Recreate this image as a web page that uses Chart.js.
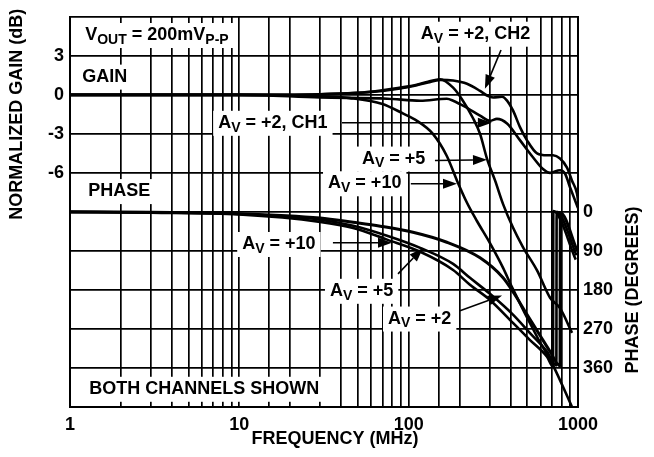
<!DOCTYPE html>
<html>
<head>
<meta charset="utf-8">
<script src="https://cdn.jsdelivr.net/npm/chart.js@4.4.1/dist/chart.umd.min.js"></script>
<style>
  html, body { margin: 0; padding: 0; background: #fff; }
  #wrap { width: 654px; height: 457px; }
</style>
</head>
<body>
<div id="wrap"><canvas id="chart" width="654" height="457"></canvas></div>
<script>
// axis ticks
const freqTickLabels = [1, 10, 100, 1000];
const gainTickLabels = [3, 0, -3, -6];
const phaseTickLabels = [0, 90, 180, 270, 360];

// normalized gain (dB) vs frequency (MHz)
const gainCh2Freq = [1, 10, 30, 50, 70, 100, 130, 153, 183, 221, 264, 290, 315, 356, 381, 413, 455, 500, 573, 656, 712, 783, 861, 922, 987, 1000];
const gainCh2 = [0, 0, 0.05, 0.15, 0.3, 0.6, 0.95, 1.15, 1.1, 0.85, 0.3, -0.05, -0.2, -0.15, -0.45, -1.2, -2.5, -3.5, -4.5, -4.65, -4.65, -4.9, -5.6, -6.6, -7.6, -8.1];

const gainCh1Freq = [1, 10, 30, 75, 117, 168, 183, 221, 264, 302, 332, 381, 455, 542, 621, 684, 783, 838, 897, 960, 1000];
const gainCh1 = [0, 0, -0.2, -0.3, -0.45, -0.3, -0.45, -1.0, -1.6, -2.0, -1.85, -2.2, -3.5, -4.8, -5.7, -6.0, -5.8, -6.05, -7.1, -8.1, -8.7];

const gainAv5Freq = [1, 10, 30, 50, 70, 100, 130, 153, 183, 209, 240, 264, 290, 324, 361, 413, 473, 573, 684, 783, 922];
const gainAv5 = [0, 0, 0.05, 0.15, 0.35, 0.65, 1.0, 1.2, 0.55, -0.45, -1.8, -3.0, -4.9, -6.6, -8.4, -10.2, -11.7, -13.5, -15.6, -16.4, -18.3];

const gainAv10Freq = [1, 10, 30, 45, 70, 93, 112, 139, 168, 193, 221, 253, 302, 361, 408, 573, 712, 922];
const gainAv10 = [0, 0, -0.1, -0.25, -0.7, -1.45, -2.0, -3.0, -4.7, -6.6, -8.3, -9.7, -11.4, -13.3, -14.8, -18.6, -20.8, -24];

// phase (degrees, drawn 0..360 downward, wraps back to 0)
const phaseAv2Freq = [1, 3, 10, 30, 47, 68, 106, 168, 264, 361, 424, 500, 597, 684, 783, 786, 990];
const phaseAv2 = [0, 1, 4, 14, 24, 33, 47, 70, 106, 152, 191, 237, 285, 322, 355, 2, 90];

const phaseAv5Freq = [1, 3, 10, 30, 47, 74.5, 117, 183, 230, 302, 413, 519, 656, 745, 748, 980];
const phaseAv5 = [0, 1, 5, 18, 32, 55, 83, 120, 152, 189, 237, 279, 322, 354, 0, 100];

const phaseAv10Freq = [1, 3, 10, 30, 47, 74.5, 117, 183, 230, 302, 413, 519, 656, 712, 715, 970];
const phaseAv10 = [0, 2, 6, 23, 37, 64, 92, 134, 168, 203, 256, 295, 334, 357, -2, 110];

const FONT = '"Liberation Sans", Arial, Helvetica, sans-serif';
const FS = 18;

function pts(xs, ys) {
  return xs.map((x, i) => ({ x: x, y: ys[i] }));
}

function curve(label, xs, ys, axis, width) {
  return {
    label: label,
    data: pts(xs, ys),
    yAxisID: axis,
    borderColor: '#000',
    borderWidth: width,
    pointRadius: 0,
    fill: false,
    cubicInterpolationMode: 'monotone',
  };
}

// text notes: "_" toggles subscript
const notes = [
  { text: 'V_OUT_ = 200mV_P-P', f: 1.23, v: 4.6, axis: 'yG' },
  { text: 'GAIN', f: 1.18, v: 1.4, axis: 'yG' },
  { text: 'PHASE', f: 1.28, v: -7.4, axis: 'yG' },
  { text: 'BOTH CHANNELS SHOWN', f: 1.3, v: -22.6, axis: 'yG' },
  { text: 'A_V_ = +2, CH2', f: 118, v: 4.7, axis: 'yG' },
  { text: 'A_V_ = +2, CH1', f: 7.5, v: -2.15, axis: 'yG' },
  { text: 'A_V_ = +5', f: 53, v: -4.9, axis: 'yG' },
  { text: 'A_V_ = +10', f: 33.4, v: -6.8, axis: 'yG' },
  { text: 'A_V_ = +10', f: 10.4, v: 74, axis: 'yP' },
  { text: 'A_V_ = +5', f: 34.3, v: 182, axis: 'yP' },
  { text: 'A_V_ = +2', f: 75.5, v: 246, axis: 'yP' },
];

const arrows = [
  { axis: 'yG', from: [351, 3.45], to: [282, 0.46] },
  { axis: 'yG', from: [40.4, -2.15], to: [310, -2.15] },
  { axis: 'yG', from: [143, -5.05], to: [290, -5.0] },
  { axis: 'yG', from: [103, -6.83], to: [193, -6.83] },
  { axis: 'yP', from: [35.7, 71], to: [79.7, 71] },
  { axis: 'yP', from: [86.5, 143], to: [121.5, 83] },
  { axis: 'yP', from: [201, 228], to: [356, 193] },
];

function richWidth(ctx, str) {
  let w = 0;
  str.split('_').forEach((p, i) => {
    ctx.font = `bold ${i % 2 ? 14 : FS}px ${FONT}`;
    w += ctx.measureText(p).width;
  });
  return w;
}

function drawRich(ctx, str, x, y) {
  let cx = x;
  ctx.textBaseline = 'middle';
  ctx.textAlign = 'left';
  str.split('_').forEach((p, i) => {
    const sub = i % 2 === 1;
    ctx.font = `bold ${sub ? 14 : FS}px ${FONT}`;
    ctx.fillText(p, cx, sub ? y + 5 : y);
    cx += ctx.measureText(p).width;
  });
}

const notesPlugin = {
  id: 'notes',
  beforeDatasetsDraw(chart) {
    const ctx = chart.ctx;
    const xs = chart.scales.x;
    ctx.save();
    ctx.fillStyle = '#fff';
    notes.forEach((n) => {
      const x = xs.getPixelForValue(n.f);
      const y = chart.scales[n.axis].getPixelForValue(n.v);
      const w = richWidth(ctx, n.text);
      ctx.fillRect(x - 5, y - 12, w + 10, 25);
    });
    ctx.restore();
  },
  afterDatasetsDraw(chart) {
    const ctx = chart.ctx;
    const xs = chart.scales.x;
    ctx.save();
    ctx.fillStyle = '#000';
    ctx.strokeStyle = '#000';
    notes.forEach((n) => {
      drawRich(ctx, n.text, xs.getPixelForValue(n.f), chart.scales[n.axis].getPixelForValue(n.v));
    });
    arrows.forEach((a) => {
      const ys = chart.scales[a.axis];
      const x1 = xs.getPixelForValue(a.from[0]), y1 = ys.getPixelForValue(a.from[1]);
      const x2 = xs.getPixelForValue(a.to[0]), y2 = ys.getPixelForValue(a.to[1]);
      const ang = Math.atan2(y2 - y1, x2 - x1);
      const hl = 14, hw = 5;
      ctx.lineWidth = 1.6;
      ctx.beginPath();
      ctx.moveTo(x1, y1);
      ctx.lineTo(x2 - hl * Math.cos(ang), y2 - hl * Math.sin(ang));
      ctx.stroke();
      ctx.beginPath();
      ctx.moveTo(x2, y2);
      ctx.lineTo(x2 - hl * Math.cos(ang) + hw * Math.sin(ang), y2 - hl * Math.sin(ang) - hw * Math.cos(ang));
      ctx.lineTo(x2 - hl * Math.cos(ang) - hw * Math.sin(ang), y2 - hl * Math.sin(ang) + hw * Math.cos(ang));
      ctx.closePath();
      ctx.fill();
    });
    ctx.restore();
  },
  afterDraw(chart) {
    const ctx = chart.ctx;
    const g = chart.scales.yG, p = chart.scales.yP, a = chart.chartArea;
    ctx.save();
    ctx.fillStyle = '#000';
    ctx.font = `bold ${FS}px ${FONT}`;
    ctx.textAlign = 'center';
    ctx.textBaseline = 'middle';
    ctx.fillText('FREQUENCY (MHz)', (a.left + a.right) / 2 + 11, a.bottom + 32);
    ctx.save();
    ctx.translate(17, (g.getPixelForValue(6) + g.getPixelForValue(-9)) / 2);
    ctx.rotate(-Math.PI / 2);
    ctx.fillText('NORMALIZED GAIN (dB)', 0, 0);
    ctx.restore();
    ctx.save();
    ctx.translate(a.right + 55, p.getPixelForValue(180));
    ctx.rotate(-Math.PI / 2);
    ctx.fillText('PHASE (DEGREES)', 0, 0);
    ctx.restore();
    ctx.restore();
  },
};

const tickFont = { family: FONT, size: FS, weight: 'bold' };
const gridStyle = { color: '#000', lineWidth: 1.7, drawTicks: false };
const borderStyle = { color: '#000', width: 2 };

new Chart(document.getElementById('chart'), {
  type: 'line',
  data: {
    datasets: [
      curve('Gain AV=+2 CH2', gainCh2Freq, gainCh2, 'yG', 2.6),
      curve('Gain AV=+2 CH1', gainCh1Freq, gainCh1, 'yG', 2.6),
      curve('Gain AV=+5', gainAv5Freq, gainAv5, 'yG', 2.6),
      curve('Gain AV=+10', gainAv10Freq, gainAv10, 'yG', 2.6),
      curve('Phase AV=+2', phaseAv2Freq, phaseAv2, 'yP', 3),
      curve('Phase AV=+5', phaseAv5Freq, phaseAv5, 'yP', 2.6),
      curve('Phase AV=+10', phaseAv10Freq, phaseAv10, 'yP', 2.6),
    ],
  },
  options: {
    responsive: false,
    animation: false,
    layout: { padding: { top: 16, left: 0, right: 0, bottom: 0 } },
    plugins: {
      legend: { display: false },
      tooltip: { enabled: false },
    },
    scales: {
      x: {
        type: 'logarithmic',
        position: 'bottom',
        min: 1,
        max: 1000,
        grid: gridStyle,
        border: borderStyle,
        ticks: {
          autoSkip: false,
          maxRotation: 0,
          padding: 7,
          color: '#000',
          font: tickFont,
          callback: (v) => (freqTickLabels.includes(v) ? String(v) : ''),
        },
        afterFit: (s) => { s.height = 50; },
      },
      yG: {
        type: 'linear',
        position: 'left',
        min: -24,
        max: 6,
        grid: gridStyle,
        border: borderStyle,
        ticks: {
          stepSize: 3,
          padding: 6,
          color: '#000',
          font: tickFont,
          callback: (v) => (gainTickLabels.includes(v) ? String(v) : ''),
        },
        afterFit: (s) => { s.width = 70; },
      },
      yP: {
        type: 'linear',
        position: 'right',
        min: -450,
        max: 450,
        reverse: true,
        grid: { display: false, drawTicks: false },
        border: borderStyle,
        ticks: {
          stepSize: 90,
          padding: 5,
          color: '#000',
          font: tickFont,
          callback: (v) => (phaseTickLabels.includes(v) ? String(v) : ''),
        },
        afterFit: (s) => { s.width = 76; },
      },
    },
  },
  plugins: [notesPlugin],
});
</script>
</body>
</html>
